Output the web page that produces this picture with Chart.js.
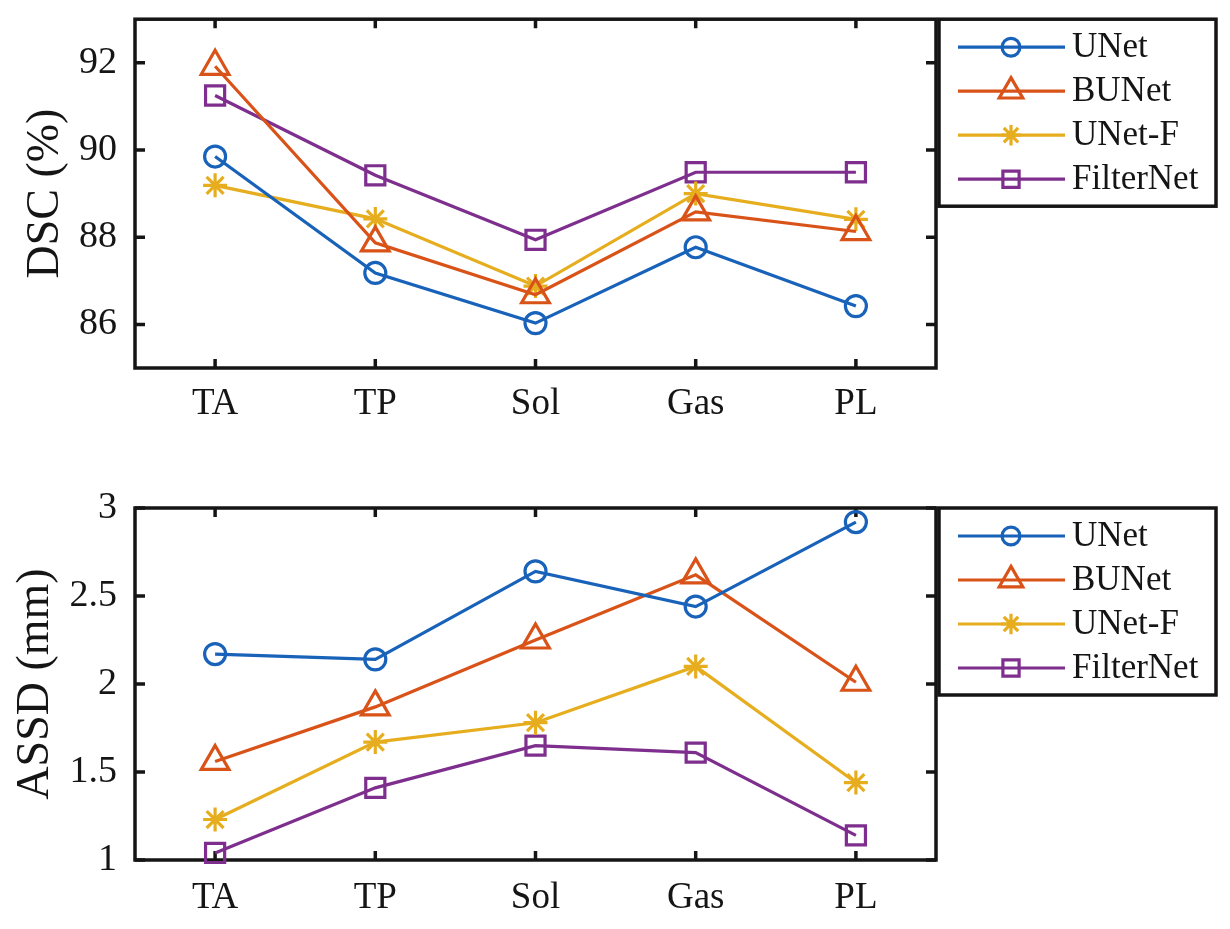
<!DOCTYPE html>
<html>
<head>
<meta charset="utf-8">
<script src="https://cdn.jsdelivr.net/npm/chart.js"></script>
<style>
html, body { margin: 0; padding: 0; background: #fff; }
canvas { display: block; }
</style>
</head>
<body>
<canvas id="dsc-chart" width="1230" height="460"></canvas>
<canvas id="assd-chart" width="1230" height="469"></canvas>
<script>
var categories = ["TA", "TP", "Sol", "Gas", "PL"];
var seriesNames = ["UNet", "BUNet", "UNet-F", "FilterNet"];

// DSC (%)
var dscUNet      = [89.85, 87.18, 86.03, 87.77, 86.42];
var dscBUNet     = [91.92, 87.87, 86.68, 88.58, 88.13];
var dscUNetF     = [89.19, 88.42, 86.88, 89.00, 88.41];
var dscFilterNet = [91.25, 89.42, 87.94, 89.49, 89.49];
var dscTicks = [86, 88, 90, 92];

// ASSD (mm)
var assdUNet      = [2.17, 2.14, 2.64, 2.44, 2.92];
var assdBUNet     = [1.56, 1.87, 2.25, 2.62, 2.01];
var assdUNetF     = [1.23, 1.67, 1.78, 2.10, 1.44];
var assdFilterNet = [1.04, 1.41, 1.65, 1.61, 1.14];
var assdTicks = [1, 1.5, 2, 2.5, 3];

var colors = ["#1862B9", "#D95319", "#E6AE1F", "#7E2F8E"];
var markers = ["circle", "triangle", "star", "rect"];
var markerSizes = [10.5, 16, 12, 13.5];

Chart.defaults.font.family = '"Liberation Serif", "Times New Roman", serif';
Chart.defaults.color = "#151515";

function makeDatasets(values) {
    return values.map(function (v, i) {
        return {
            label: seriesNames[i],
            data: v,
            borderColor: colors[i],
            backgroundColor: "rgba(0,0,0,0)",
            borderWidth: 3.2,
            pointStyle: markers[i],
            pointRadius: markerSizes[i],
            pointHoverRadius: markerSizes[i],
            pointBorderColor: colors[i],
            pointBackgroundColor: "rgba(0,0,0,0)",
            pointBorderWidth: 3.2,
            tension: 0,
            fill: false,
            clip: false
        };
    });
}

// frame + inward ticks on all four sides
var boxAxes = {
    id: "boxAxes",
    beforeDatasetsDraw: function (chart) {
        var ctx = chart.ctx, a = chart.chartArea, xs = chart.scales.x, ys = chart.scales.y;
        ctx.save();
        ctx.strokeStyle = "#151515";
        ctx.lineWidth = 3.5;
        ctx.strokeRect(a.left, a.top, a.right - a.left, a.bottom - a.top);
        ctx.beginPath();
        ys.ticks.forEach(function (t) {
            var p = ys.getPixelForValue(t.value);
            ctx.moveTo(a.left, p); ctx.lineTo(a.left + 10, p);
            ctx.moveTo(a.right, p); ctx.lineTo(a.right - 10, p);
        });
        xs.ticks.forEach(function (t, i) {
            var p = xs.getPixelForTick(i);
            ctx.moveTo(p, a.bottom); ctx.lineTo(p, a.bottom - 9);
            ctx.moveTo(p, a.top); ctx.lineTo(p, a.top + 9);
        });
        ctx.stroke();
        ctx.restore();
    }
};

function drawMarker(ctx, style, r, x, y) {
    if (Chart.helpers && Chart.helpers.drawPoint) {
        Chart.helpers.drawPoint(ctx, {pointStyle: style, radius: r, borderWidth: 3, rotation: 0}, x, y);
        return;
    }
    ctx.beginPath();
    ctx.arc(x, y, r, 0, Math.PI * 2);
    ctx.stroke();
}

// boxed legend to the right of the plot
var boxLegend = {
    id: "boxLegend",
    afterDraw: function (chart) {
        var ctx = chart.ctx, a = chart.chartArea;
        var left = a.right + 3, top = a.top, w = 277, h = 187;
        ctx.save();
        ctx.lineWidth = 3.5;
        ctx.strokeStyle = "#151515";
        ctx.strokeRect(left, top, w, h);
        ctx.font = '35px "Liberation Serif", "Times New Roman", serif';
        ctx.textBaseline = "middle";
        ctx.textAlign = "left";
        chart.data.datasets.forEach(function (ds, i) {
            var cy = top + 28 + i * 44;
            ctx.strokeStyle = ds.borderColor;
            ctx.lineWidth = 3.2;
            ctx.beginPath();
            ctx.moveTo(left + 19, cy);
            ctx.lineTo(left + 126, cy);
            ctx.stroke();
            ctx.fillStyle = "rgba(0,0,0,0)";
            drawMarker(ctx, ds.pointStyle, ds.pointRadius * 0.85, left + 72, cy);
            ctx.fillStyle = "#151515";
            ctx.fillText(ds.label, left + 133, cy + 1);
        });
        ctx.restore();
    }
};

function makeOptions(yMin, yMax, yTicks, yTitle, titlePad, xPad, topPad, xHeight) {
    return {
        responsive: false,
        animation: false,
        layout: {padding: {top: topPad, right: 294, left: 0, bottom: 0}},
        plugins: {legend: {display: false}, tooltip: {enabled: false}},
        scales: {
            x: {
                type: "category",
                offset: true,
                grid: {display: false, drawTicks: false},
                border: {display: false},
                ticks: {font: {size: 37}, padding: xPad},
                afterFit: function (s) { s.height = xHeight; }
            },
            y: {
                min: yMin,
                max: yMax,
                grid: {display: false, drawTicks: false},
                border: {display: false},
                afterBuildTicks: function (s) {
                    s.ticks = yTicks.map(function (v) { return {value: v}; });
                },
                ticks: {
                    font: {size: 38},
                    padding: 18,
                    callback: function (v) { return String(v); }
                },
                title: {display: true, text: yTitle, font: {size: 46}, padding: {top: titlePad, bottom: 0}},
                afterFit: function (s) {
                    s.width = 135;
                    s.paddingTop = 0;
                    s.paddingBottom = 0;
                }
            }
        }
    };
}

new Chart(document.getElementById("dsc-chart").getContext("2d"), {
    type: "line",
    data: {labels: categories, datasets: makeDatasets([dscUNet, dscBUNet, dscUNetF, dscFilterNet])},
    options: makeOptions(85, 93, dscTicks, "DSC (%)", 18, 14, 15, 92),
    plugins: [boxAxes, boxLegend]
});

new Chart(document.getElementById("assd-chart").getContext("2d"), {
    type: "line",
    data: {labels: categories, datasets: makeDatasets([assdUNet, assdBUNet, assdUNetF, assdFilterNet])},
    options: makeOptions(1, 3, assdTicks, "ASSD (mm)", 8, 16, 48, 69),
    plugins: [boxAxes, boxLegend]
});
</script>
</body>
</html>
